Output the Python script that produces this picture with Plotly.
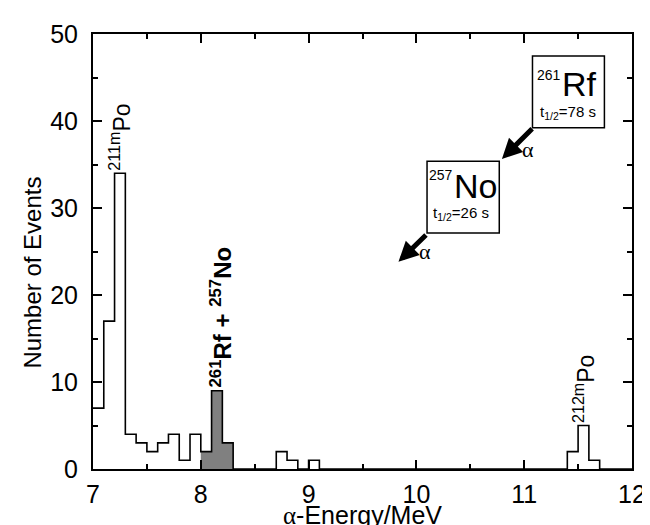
import plotly.graph_objects as go

# Histogram bin edges (MeV) and counts per 0.1 MeV bin
bin_edges = [7.0, 7.1, 7.2, 7.3, 7.4, 7.5, 7.6, 7.7, 7.8, 7.9,
             8.0, 8.1, 8.2, 8.3, 8.4, 8.5, 8.6, 8.7, 8.8, 8.9,
             9.0, 9.1, 9.2, 9.3, 9.4, 9.5, 9.6, 9.7, 9.8, 9.9,
             10.0, 10.1, 10.2, 10.3, 10.4, 10.5, 10.6, 10.7, 10.8, 10.9,
             11.0, 11.1, 11.2, 11.3, 11.4, 11.5, 11.6, 11.7, 11.8, 11.9, 12.0]
counts = [7, 17, 34, 4, 3, 2, 3, 4, 1, 4,
          2, 9, 3, 0, 0, 0, 0, 2, 1, 0,
          1, 0, 0, 0, 0, 0, 0, 0, 0, 0,
          0, 0, 0, 0, 0, 0, 0, 0, 0, 0,
          0, 0, 0, 0, 2, 5, 1, 0, 0, 0]

# Highlighted (261Rf + 257No) bins
rf_edges = [8.0, 8.1, 8.2, 8.3]
rf_counts = [2, 9, 3]

x_ticks = [7, 8, 9, 10, 11, 12]
y_ticks = [0, 10, 20, 30, 40, 50]

FONT = "Liberation Sans"

fig = go.Figure()

fig.add_trace(go.Scatter(
    x=rf_edges, y=rf_counts + [rf_counts[-1]],
    mode="lines", line=dict(shape="hv", color="#808080", width=0),
    fill="tozeroy", fillcolor="#808080", hoverinfo="skip", showlegend=False))

fig.add_trace(go.Scatter(
    x=bin_edges, y=counts + [counts[-1]],
    mode="lines", line=dict(shape="hv", color="black", width=1.6),
    showlegend=False))

def px2paper(px, py):
    return (px - 85) / 547.0, (461 - py) / 441.0

ann = []
# peak labels
ann.append(dict(x=7.25, y=34, xref="x", yref="y", text="<sup>211m</sup>Po",
                textangle=-90, showarrow=False, yanchor="bottom", xanchor="center",
                font=dict(family=FONT, size=23, color="black"), yshift=1))
ann.append(dict(x=11.55, y=5, xref="x", yref="y", text="<sup>212m</sup>Po",
                textangle=-90, showarrow=False, yanchor="bottom", xanchor="center",
                font=dict(family=FONT, size=23, color="black"), yshift=1))
ann.append(dict(x=8.19, y=9, xref="x", yref="y",
                text="<b><sup>261</sup>Rf + <sup>257</sup>No</b>",
                textangle=-90, showarrow=False, yanchor="bottom", xanchor="center",
                font=dict(family=FONT, size=24, color="black"), yshift=1))

# decay chain text
def txt(px, py, text, size, family=FONT):
    x, y = px2paper(px, py)
    return dict(x=x, y=y, xref="paper", yref="paper", text=text, showarrow=False,
                xanchor="center", yanchor="middle",
                font=dict(family=family, size=size, color="black"))

ann.append(txt(547.5, 62, "261", 14))
ann.append(txt(579, 71, "Rf", 34))
ann.append(txt(567, 100, "t<sub>1/2</sub>=78 s", 15))
ann.append(txt(438.5, 163, "257", 14))
ann.append(txt(473.5, 174, "No", 34))
ann.append(txt(458, 202, "t<sub>1/2</sub>=26 s", 15))
ann.append(txt(526.7, 137, "α", 22, "Liberation Serif"))
ann.append(txt(421.7, 240, "α", 22, "Liberation Serif"))

# axis titles
ax_x, ax_y = px2paper(358.5, 508)
ann.append(dict(x=ax_x, y=ax_y, xref="paper", yref="paper", showarrow=False,
                text='<span style="font-family:Liberation Serif">α</span>-Energy/MeV',
                xanchor="center", yanchor="middle",
                font=dict(family=FONT, size=25, color="black")))
ay_x, ay_y = px2paper(24, 262)
ann.append(dict(x=ay_x, y=ay_y, xref="paper", yref="paper", showarrow=False,
                text="Number of Events", textangle=-90,
                xanchor="center", yanchor="middle",
                font=dict(family=FONT, size=24, color="black")))

# arrows
for (hx, hy, tx, ty) in [(500, 146.7, 531.7, 115), (395, 251, 424, 222.7)]:
    x, y = px2paper(hx, hy)
    ann.append(dict(x=x, y=y, xref="paper", yref="paper", text="", showarrow=True,
                    ax=tx - hx, ay=ty - hy, arrowhead=2, arrowsize=0.8,
                    arrowwidth=5, arrowcolor="black"))

shapes = []
for (x0p, y0p, x1p, y1p) in [(531, 42.3, 604, 115), (424, 149, 497.3, 221.7)]:
    a0, b0 = px2paper(x0p, y1p)
    a1, b1 = px2paper(x1p, y0p)
    shapes.append(dict(type="rect", xref="paper", yref="paper", x0=a0, y0=b0,
                       x1=a1, y1=b1, line=dict(color="black", width=1.5),
                       fillcolor="rgba(0,0,0,0)"))

axis_common = dict(showline=True, linecolor="black", linewidth=2, mirror="ticks",
                   ticks="inside", ticklen=9, tickwidth=1.5, tickcolor="black",
                   showgrid=False, zeroline=False,
                   tickfont=dict(family=FONT, size=25, color="black"))

fig.update_layout(
    width=650, height=525,
    margin=dict(l=85, r=18, t=20, b=64),
    plot_bgcolor="white", paper_bgcolor="white",
    xaxis=dict(range=[7, 12], tickvals=x_ticks, ticktext=[str(v) for v in x_ticks],
               minor=dict(dtick=0.5, ticks="inside", ticklen=5, tickwidth=1.5, tickcolor="black"),
               ticklabelstandoff=2, **axis_common),
    yaxis=dict(range=[0, 50], tickvals=y_ticks, ticktext=[str(v) for v in y_ticks],
               minor=dict(dtick=5, ticks="inside", ticklen=5, tickwidth=1.5, tickcolor="black"),
               ticklabelstandoff=8, **axis_common),
    annotations=ann, shapes=shapes,
)

fig.write_html("out.html")
